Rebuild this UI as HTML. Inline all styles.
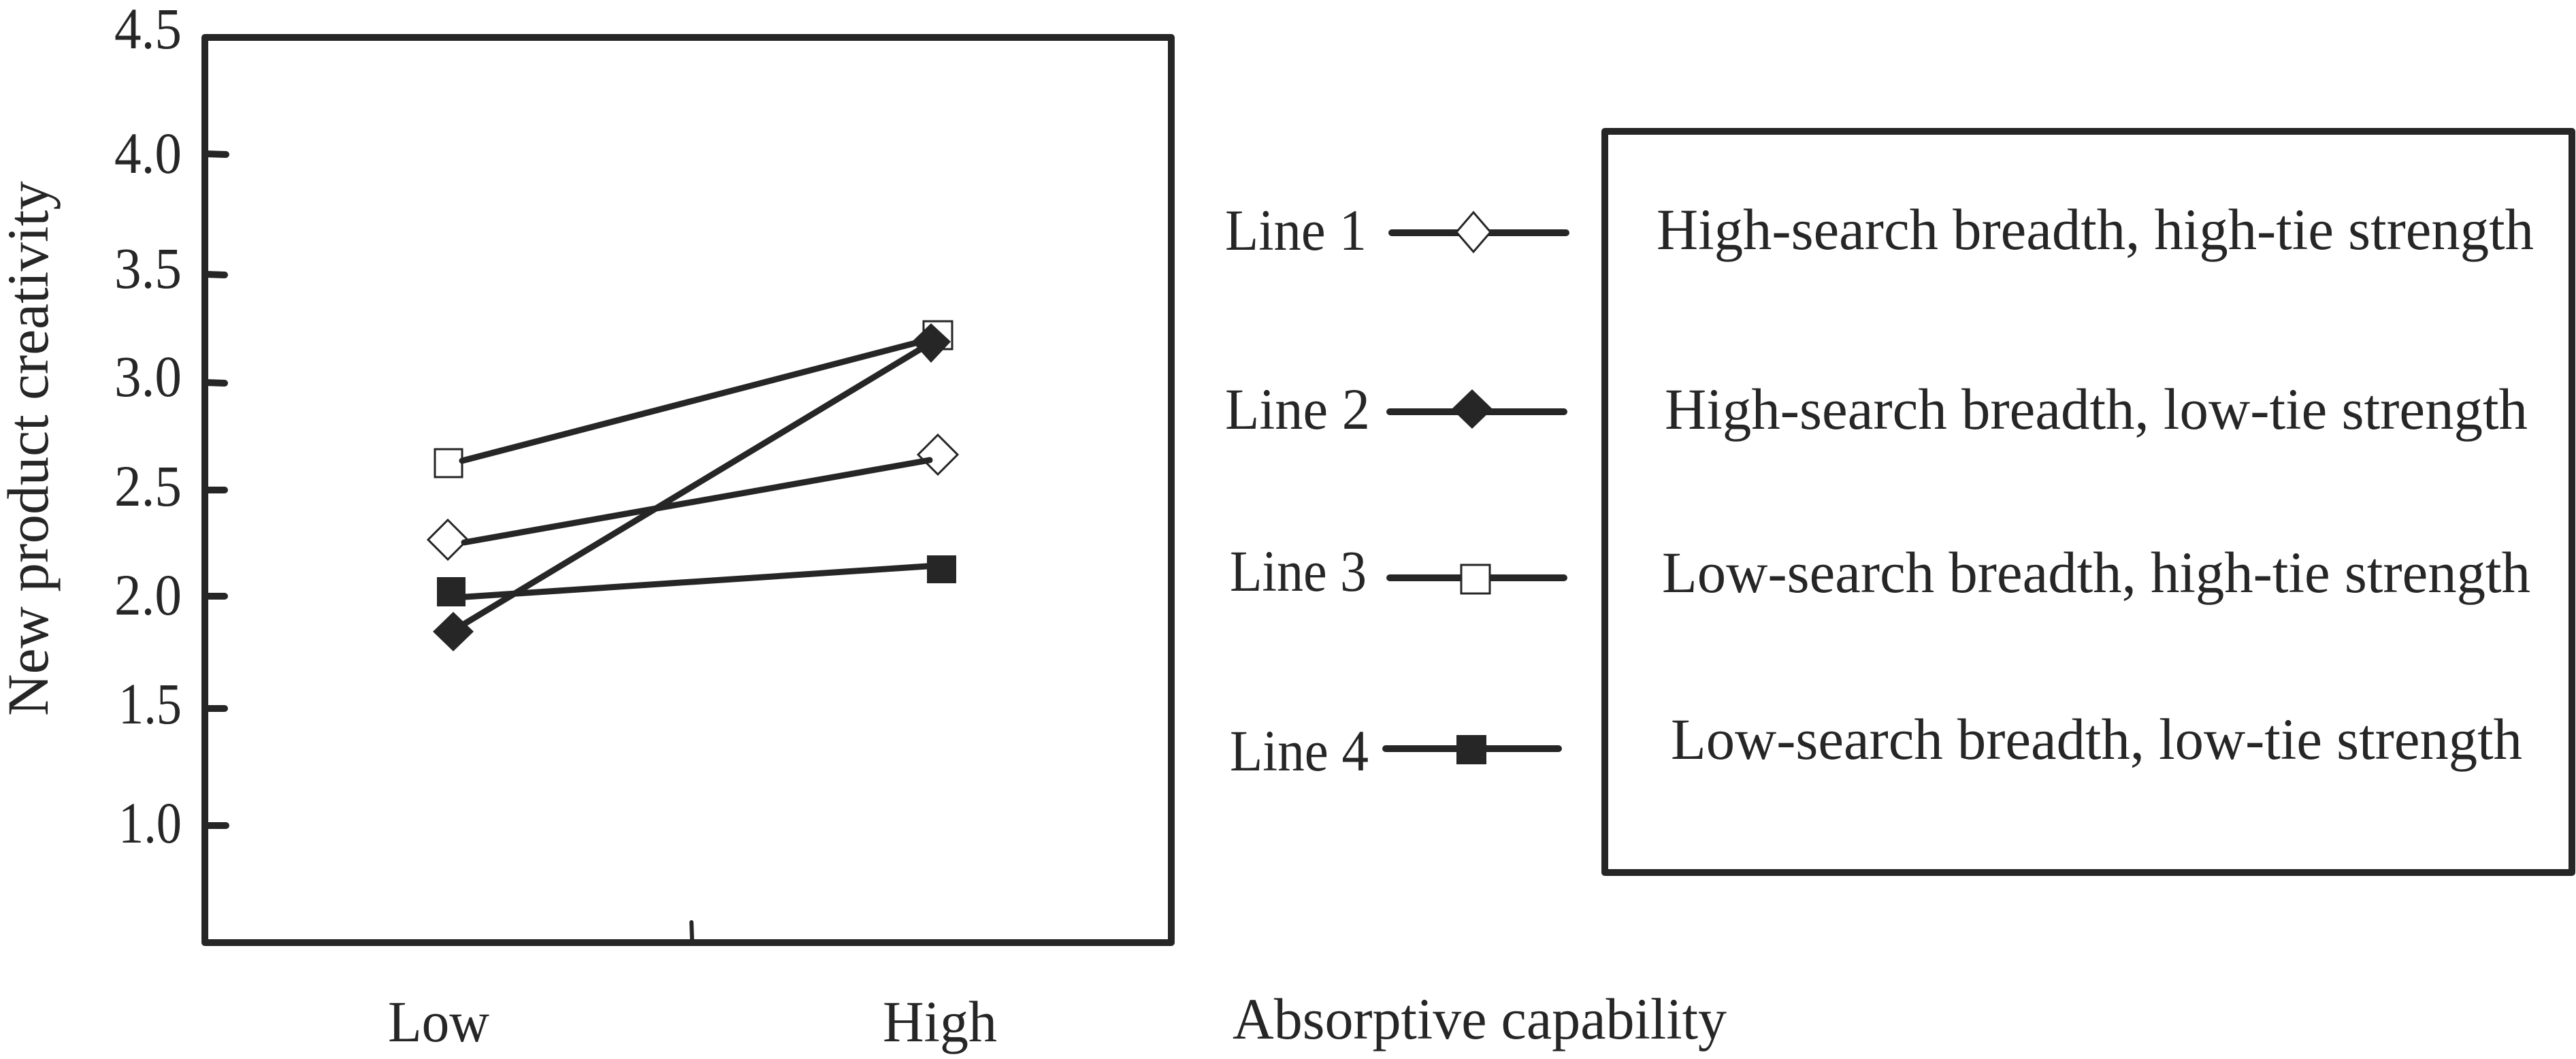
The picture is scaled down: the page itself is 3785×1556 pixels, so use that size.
<!DOCTYPE html>
<html>
<head>
<meta charset="utf-8">
<style>
  html, body { margin: 0; padding: 0; background: #ffffff; }
  svg { display: block; }
  text { font-family: "Liberation Serif", "Times New Roman", serif; fill: #262626; }
</style>
</head>
<body>
<svg width="3785" height="1556" viewBox="0 0 3785 1556" xmlns="http://www.w3.org/2000/svg">
  <rect x="0" y="0" width="3785" height="1556" fill="#ffffff"/>

  <!-- Plot frame -->
  <rect x="301" y="55" width="1420" height="1330" fill="none" stroke="#262626" stroke-width="10" stroke-linejoin="round"/>

  <!-- Y ticks -->
  <g stroke="#262626" stroke-width="10" stroke-linecap="round">
    <line x1="302" y1="226" x2="332" y2="227"/>
    <line x1="302" y1="403" x2="330" y2="404"/>
    <line x1="302" y1="562" x2="330" y2="563"/>
    <line x1="302" y1="720" x2="330" y2="720"/>
    <line x1="302" y1="876" x2="330" y2="876"/>
    <line x1="302" y1="1041" x2="330" y2="1041"/>
    <line x1="302" y1="1213" x2="332" y2="1213"/>
  </g>
  <!-- middle x tick -->
  <line x1="1016" y1="1355" x2="1017" y2="1385" stroke="#262626" stroke-width="6" stroke-linecap="round"/>

  <!-- Y tick labels -->
  <g font-size="86" text-anchor="end">
    <text x="267" y="71" textLength="99" lengthAdjust="spacingAndGlyphs">4.5</text>
    <text x="267" y="254" textLength="99" lengthAdjust="spacingAndGlyphs">4.0</text>
    <text x="267" y="423" textLength="99" lengthAdjust="spacingAndGlyphs">3.5</text>
    <text x="267" y="582" textLength="99" lengthAdjust="spacingAndGlyphs">3.0</text>
    <text x="267" y="743" textLength="99" lengthAdjust="spacingAndGlyphs">2.5</text>
    <text x="267" y="903" textLength="99" lengthAdjust="spacingAndGlyphs">2.0</text>
    <text x="267" y="1063" textLength="93" lengthAdjust="spacingAndGlyphs">1.5</text>
    <text x="267" y="1238" textLength="93" lengthAdjust="spacingAndGlyphs">1.0</text>
  </g>

  <!-- Y axis title -->
  <text font-size="86" transform="translate(70,1052) rotate(-90)" x="0" y="0" textLength="786" lengthAdjust="spacingAndGlyphs">New product creativity</text>

  <!-- X labels -->
  <text font-size="86" x="570" y="1530" textLength="149" lengthAdjust="spacingAndGlyphs">Low</text>
  <text font-size="86" x="1297" y="1530" textLength="168" lengthAdjust="spacingAndGlyphs">High</text>
  <text font-size="86" x="1811" y="1526" textLength="726" lengthAdjust="spacingAndGlyphs">Absorptive capability</text>

  <!-- Open markers (under lines) -->
  <g fill="#ffffff" stroke="#262626" stroke-width="3">
    <rect x="639" y="660" width="40" height="41"/>
    <polygon points="658,764 687,793 658,822 629,793"/>
    <rect x="1357" y="472" width="42" height="41"/>
    <polygon points="1378,639 1407,668 1378,697 1349,668"/>
  </g>

  <!-- Data lines -->
  <g stroke="#262626" stroke-width="9" stroke-linecap="round" fill="none">
    <line x1="679" y1="677" x2="1372" y2="497"/>
    <line x1="682" y1="797" x2="1366" y2="676"/>
    <line x1="684" y1="877" x2="1362" y2="832"/>
    <line x1="680" y1="918" x2="1369" y2="503"/>
  </g>

  <!-- Filled markers -->
  <g fill="#262626">
    <rect x="642" y="848" width="42" height="43"/>
    <polygon points="666,899 696,928 666,957 636,928"/>
    <rect x="1362" y="816" width="43" height="41"/>
    <polygon points="1368,475 1397,502 1368,533 1340,502"/>
  </g>

  <!-- Legend box -->
  <rect x="2358" y="193" width="1421" height="1089" fill="none" stroke="#262626" stroke-width="10" stroke-linejoin="round"/>

  <!-- Legend rows -->
  <g font-size="86">
    <text x="1800" y="367" textLength="208" lengthAdjust="spacingAndGlyphs">Line 1</text>
    <text x="1800" y="630" textLength="213" lengthAdjust="spacingAndGlyphs">Line 2</text>
    <text x="1807" y="868" textLength="201" lengthAdjust="spacingAndGlyphs">Line 3</text>
    <text x="1807" y="1132" textLength="204" lengthAdjust="spacingAndGlyphs">Line 4</text>

    <text x="2434" y="366" textLength="1289" lengthAdjust="spacingAndGlyphs">High-search breadth, high-tie strength</text>
    <text x="2446" y="630" textLength="1268" lengthAdjust="spacingAndGlyphs">High-search breadth, low-tie strength</text>
    <text x="2442" y="870" textLength="1276" lengthAdjust="spacingAndGlyphs">Low-search breadth, high-tie strength</text>
    <text x="2455" y="1115" textLength="1251" lengthAdjust="spacingAndGlyphs">Low-search breadth, low-tie strength</text>
  </g>

  <g stroke="#262626" stroke-width="10" stroke-linecap="round">
    <line x1="2045" y1="342" x2="2301" y2="342"/>
    <line x1="2042" y1="605" x2="2298" y2="605"/>
    <line x1="2042" y1="849" x2="2298" y2="849"/>
    <line x1="2036" y1="1100" x2="2290" y2="1100"/>
  </g>

  <!-- Legend markers -->
  <polygon points="2165,312 2190,341 2165,370 2140,341" fill="#ffffff" stroke="#262626" stroke-width="3"/>
  <polygon points="2163,572 2193,601 2163,630 2133,601" fill="#262626"/>
  <rect x="2147" y="830" width="42" height="42" fill="#ffffff" stroke="#262626" stroke-width="3"/>
  <rect x="2140" y="1080" width="44" height="43" fill="#262626"/>
</svg>
</body>
</html>
